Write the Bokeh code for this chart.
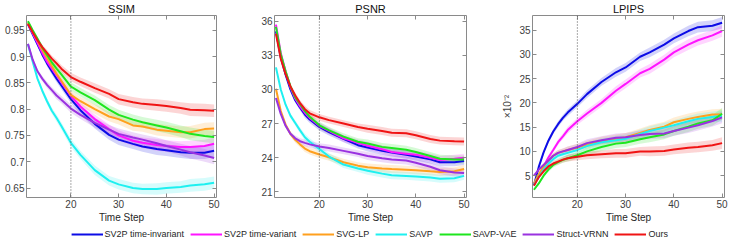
from bokeh.plotting import figure
from bokeh.models import Range1d, FixedTicker, LinearAxis, Span, Legend, LegendItem
from bokeh.layouts import column, row
from bokeh.embed import file_html
from bokeh.resources import INLINE

# ---------------- data ----------------
steps = [11, 12, 13, 14, 15, 16, 17, 18, 20, 22, 25, 28, 30, 33, 35, 38, 40, 43, 45, 48, 50]

series_names = ["SV2P time-invariant", "SV2P time-variant", "SVG-LP", "SAVP", "SAVP-VAE", "Struct-VRNN", "Ours"]
series_colors = ["#0c0ce6", "#ff14ff", "#ffa01e", "#1ef0f0", "#1ee61e", "#9a32e0", "#f01414"]

# SSIM
ssim_sv2p_ti = [0.961, 0.942, 0.923, 0.904, 0.887, 0.872, 0.858, 0.845, 0.819, 0.798, 0.772, 0.751, 0.742, 0.734, 0.729, 0.724, 0.722, 0.718, 0.717, 0.717, 0.721]
ssim_sv2p_tv = [0.963, 0.944, 0.926, 0.907, 0.890, 0.877, 0.864, 0.851, 0.825, 0.805, 0.781, 0.762, 0.750, 0.740, 0.736, 0.732, 0.730, 0.728, 0.728, 0.730, 0.734]
ssim_svglp = [0.964, 0.947, 0.931, 0.913, 0.897, 0.882, 0.867, 0.854, 0.827, 0.815, 0.800, 0.786, 0.781, 0.769, 0.767, 0.761, 0.759, 0.756, 0.756, 0.762, 0.763]
ssim_savp = [0.924, 0.890, 0.858, 0.835, 0.815, 0.797, 0.783, 0.768, 0.736, 0.713, 0.684, 0.664, 0.657, 0.650, 0.648, 0.648, 0.650, 0.652, 0.655, 0.657, 0.660]
ssim_savpvae = [0.967, 0.950, 0.934, 0.917, 0.903, 0.889, 0.877, 0.866, 0.843, 0.832, 0.817, 0.799, 0.789, 0.780, 0.775, 0.769, 0.765, 0.758, 0.753, 0.749, 0.747]
ssim_vrnn = [0.924, 0.894, 0.872, 0.858, 0.846, 0.836, 0.826, 0.818, 0.801, 0.789, 0.774, 0.761, 0.753, 0.746, 0.742, 0.735, 0.730, 0.723, 0.718, 0.712, 0.707]
ssim_ours = [0.962, 0.946, 0.931, 0.918, 0.907, 0.896, 0.887, 0.877, 0.861, 0.852, 0.840, 0.829, 0.819, 0.813, 0.810, 0.808, 0.806, 0.802, 0.799, 0.798, 0.797]
ssim_err = [0.002, 0.003, 0.004, 0.005, 0.006, 0.006, 0.007, 0.007, 0.008, 0.008, 0.009, 0.009, 0.010, 0.010, 0.010, 0.011, 0.011, 0.011, 0.012, 0.012, 0.012]

# PSNR
psnr_sv2p_ti = [35.1, 32.8, 31.3, 30.0, 29.05, 28.4, 27.8, 27.35, 26.7, 26.25, 25.65, 25.1, 24.9, 24.6, 24.45, 24.25, 24.1, 23.85, 23.6, 23.6, 23.7]
psnr_sv2p_tv = [35.7, 33.2, 31.6, 30.2, 29.2, 28.5, 27.95, 27.5, 26.8, 26.35, 25.7, 25.3, 25.05, 24.75, 24.5, 24.35, 24.25, 24.0, 23.8, 23.9, 24.0]
psnr_svglp = [30.06, 28.1, 26.9, 26.1, 25.57, 25.17, 24.8, 24.57, 24.28, 24.04, 23.6, 23.3, 23.15, 23.05, 23.0, 22.95, 22.9, 22.8, 22.75, 22.8, 23.0]
psnr_savp = [31.94, 30.0, 28.66, 27.7, 27.05, 26.4, 25.8, 25.4, 24.76, 24.1, 23.4, 23.05, 22.85, 22.6, 22.45, 22.4, 22.35, 22.25, 22.15, 22.2, 22.4]
psnr_savpvae = [35.5, 33.1, 31.6, 30.3, 29.3, 28.7, 28.1, 27.6, 26.85, 26.4, 25.85, 25.4, 25.25, 24.95, 24.85, 24.7, 24.5, 24.15, 23.9, 23.85, 23.85]
psnr_vrnn = [29.25, 27.85, 26.8, 26.1, 25.7, 25.45, 25.3, 25.17, 24.98, 24.85, 24.6, 24.35, 24.15, 23.95, 23.85, 23.75, 23.55, 23.2, 22.9, 22.7, 22.65]
psnr_ours = [34.9, 32.7, 31.35, 30.27, 29.47, 28.8, 28.26, 27.9, 27.55, 27.3, 27.0, 26.7, 26.55, 26.35, 26.2, 26.15, 25.97, 25.65, 25.5, 25.45, 25.42]
psnr_err = [0.10, 0.15, 0.20, 0.20, 0.25, 0.25, 0.30, 0.30, 0.30, 0.30, 0.30, 0.30, 0.35, 0.35, 0.35, 0.35, 0.35, 0.35, 0.35, 0.35, 0.35]

# LPIPS (x 10^-2)
lpips_sv2p_ti = [3.0, 6.8, 9.8, 12.2, 14.1, 15.6, 16.9, 18.0, 19.8, 21.8, 24.3, 26.3, 27.3, 29.5, 30.4, 32.0, 33.3, 34.8, 35.6, 35.9, 36.5]
lpips_sv2p_tv = [3.4, 4.7, 6.9, 8.75, 10.3, 11.9, 13.1, 14.4, 16.2, 17.8, 20.0, 22.5, 23.9, 26.1, 27.0, 28.9, 30.4, 32.0, 32.9, 33.9, 34.8]
lpips_svglp = [3.4, 5.3, 6.9, 8.1, 9.1, 9.7, 10.0, 10.3, 10.8, 11.4, 12.2, 12.6, 12.9, 13.8, 14.4, 15.1, 16.0, 16.7, 17.1, 17.6, 17.6]
lpips_savp = [3.1, 4.7, 6.25, 7.5, 8.4, 9.1, 9.4, 9.7, 10.3, 11.1, 11.9, 12.3, 12.6, 13.6, 14.2, 14.9, 15.4, 16.2, 16.7, 17.1, 17.3]
lpips_savpvae = [2.1, 3.4, 5.0, 6.25, 7.2, 7.8, 8.25, 8.6, 9.2, 10.0, 10.9, 11.6, 11.8, 12.5, 12.9, 13.5, 14.2, 15.1, 15.75, 16.4, 17.75]
lpips_vrnn = [5.0, 6.25, 7.2, 8.1, 9.1, 9.7, 10.0, 10.3, 10.9, 11.7, 12.3, 12.8, 12.9, 13.4, 13.6, 13.7, 14.2, 14.9, 15.4, 16.25, 17.0]
lpips_ours = [2.9, 4.7, 5.9, 6.9, 7.5, 7.9, 8.3, 8.6, 8.9, 9.2, 9.4, 9.6, 9.6, 10.0, 10.0, 10.1, 10.4, 10.75, 10.9, 11.25, 11.7]
lpips_err = [0.2, 0.3, 0.4, 0.5, 0.5, 0.6, 0.6, 0.7, 0.7, 0.8, 0.8, 0.9, 0.9, 0.9, 1.0, 1.0, 1.0, 1.1, 1.1, 1.1, 1.2]

x_ticks = [10, 20, 30, 40, 50]
ssim_ticks = [0.65, 0.7, 0.75, 0.8, 0.85, 0.9, 0.95]
ssim_tick_labels = ["0.65", "0.7", "0.75", "0.8", "0.85", "0.9", "0.95"]
psnr_ticks = [21, 24, 27, 30, 33, 36]
lpips_ticks = [5, 10, 15, 20, 25, 30, 35]
marker_step = 20

FONT = "Liberation Sans"
FRAME = "#8a8a8a"
TXT = "#404040"


def make_panel(title, series, err, yr, yticks, ylabels, frame_w, bl, br, ylabel=None):
    p = figure(frame_width=frame_w, frame_height=182,
               x_range=Range1d(10.7, 50.5), y_range=Range1d(*yr),
               output_backend="svg", toolbar_location=None,
               min_border_left=bl, min_border_right=br, min_border_top=14, min_border_bottom=0)
    p.title.text = title
    p.title.align = "center"
    p.title.text_font = FONT
    p.title.text_font_size = "11px"
    p.title.text_font_style = "normal"
    p.title.text_color = "#111111"
    p.title.standoff = 1
    p.title.offset = 0
    p.grid.visible = False
    p.outline_line_color = FRAME
    p.outline_line_width = 1

    for ax in (p.xaxis[0], p.yaxis[0]):
        ax.axis_line_color = None
        ax.major_tick_in = 4
        ax.major_tick_out = 0
        ax.minor_tick_line_color = None
        ax.major_tick_line_color = FRAME
        ax.major_label_text_font = FONT
        ax.major_label_text_font_size = "10px"
        ax.major_label_text_color = TXT
        ax.major_label_standoff = 2
    p.xaxis.ticker = FixedTicker(ticks=x_ticks)
    p.yaxis.ticker = FixedTicker(ticks=yticks)
    if ylabels is not None:
        p.yaxis.major_label_overrides = {t: l for t, l in zip(yticks, ylabels)}
    p.xaxis.axis_label = "Time Step"
    p.xaxis.axis_label_text_font = FONT
    p.xaxis.axis_label_text_font_size = "10px"
    p.xaxis.axis_label_text_font_style = "normal"
    p.xaxis.axis_label_text_color = "#262626"
    p.xaxis.axis_label_standoff = 1
    if ylabel:
        p.yaxis.axis_label = ylabel
        p.yaxis.axis_label_text_font = FONT
        p.yaxis.axis_label_text_font_size = "10px"
        p.yaxis.axis_label_text_font_style = "normal"
        p.yaxis.axis_label_text_color = TXT
        p.yaxis.axis_label_standoff = 3

    # mirrored ticks on top and right (no labels)
    for side, ticks in (("above", x_ticks), ("right", yticks)):
        a = LinearAxis(ticker=FixedTicker(ticks=ticks), axis_line_color=None,
                       major_tick_in=4, major_tick_out=0, minor_tick_line_color=None,
                       major_tick_line_color=FRAME, major_label_text_font_size="1px",
                       major_label_overrides={t: "" for t in ticks},
                       major_label_standoff=0)
        p.add_layout(a, side)

    for vals, col in zip(series, series_colors):
        lo = [v - e for v, e in zip(vals, err)]
        hi = [v + e for v, e in zip(vals, err)]
        p.varea(x=steps, y1=lo, y2=hi, fill_color=col, fill_alpha=0.18)
    for vals, col in zip(series, series_colors):
        p.line(x=steps, y=vals, line_color=col, line_width=2)

    p.add_layout(Span(location=marker_step, dimension="height", line_color="#555555",
                      line_width=1, line_dash="1 2"))
    return p


ssim_series = [ssim_sv2p_ti, ssim_sv2p_tv, ssim_svglp, ssim_savp, ssim_savpvae, ssim_vrnn, ssim_ours]
psnr_series = [psnr_sv2p_ti, psnr_sv2p_tv, psnr_svglp, psnr_savp, psnr_savpvae, psnr_vrnn, psnr_ours]
lpips_series = [lpips_sv2p_ti, lpips_sv2p_tv, lpips_svglp, lpips_savp, lpips_savpvae, lpips_vrnn, lpips_ours]

p1 = make_panel("SSIM", ssim_series, ssim_err, (0.632, 0.978), ssim_ticks, ssim_tick_labels, 190, 26, 18)
p2 = make_panel("PSNR", psnr_series, psnr_err, (20.5, 36.5), psnr_ticks, None, 192, 40, 26)
p3 = make_panel("LPIPS", lpips_series, lpips_err, (0.5, 38.0), lpips_ticks, None, 192, 40, 6, ylabel="×10⁻²")

# legend strip: its lines reuse the LPIPS series, which lie outside this strip's ranges
lf = figure(width=739, height=18, output_backend="svg", toolbar_location=None,
            x_range=Range1d(0, 1), y_range=Range1d(0, 1), min_border=0)
lf.axis.visible = False
lf.grid.visible = False
lf.outline_line_color = None
items = []
for name, col, vals in zip(series_names, series_colors, lpips_series):
    r = lf.line(x=steps, y=vals, line_color=col, line_width=2)
    items.append(LegendItem(label=name, renderers=[r]))
leg = Legend(items=items, orientation="horizontal", location="center",
             label_text_font=FONT, label_text_font_size="9px", label_text_color="#262626",
             glyph_width=32, glyph_height=10, label_height=10, label_standoff=2,
             spacing=6, padding=0, margin=0, border_line_alpha=0, background_fill_alpha=0)
lf.add_layout(leg, "center")

layout = column(row(p1, p2, p3), lf)
open("out.html", "w").write(file_html(layout, INLINE))
